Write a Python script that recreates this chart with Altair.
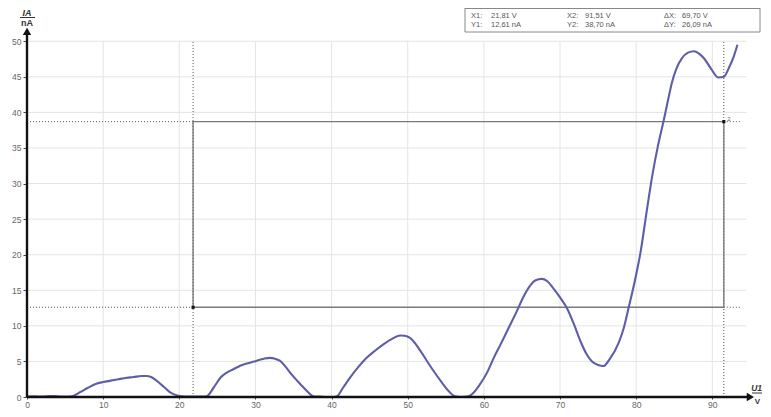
import altair as alt
import pandas as pd

# ---- measured curve (U1 in V, I_A in nA) ----
u_volts = [0, 1, 2, 3, 4, 5, 5.9, 7, 8, 9.2, 10, 11, 12, 13.1, 14, 15, 15.7, 16.3, 17, 18,
           18.8, 19.5, 20.3, 21, 22, 23, 23.6, 24.5, 25.4, 26.2, 27.1, 28, 29, 29.7, 30.5,
           31.2, 31.9, 32.5, 33.2, 34, 34.8, 35.9, 36.8, 37.6, 38.5, 39.5, 40.3, 40.7, 41.5,
           42.4, 43.5, 44.6, 45.7, 46.8, 48, 49, 49.6, 50.3, 51.6, 52.5, 53.4, 54.3, 55.4,
           56.2, 57, 58, 59.5, 60.5, 61.3, 62.2, 63.2, 64.3, 65.2, 66.1, 66.8, 67.6, 68.3,
           69.1, 70, 70.9, 71.8, 72.7, 73.5, 74.2, 75, 75.7, 76.5, 77.7, 78.4, 79, 79.8, 80.6,
           81.3, 82.1, 82.9, 83.6, 84.2, 84.7, 85.3, 86, 86.8, 87.6, 88.2, 88.9, 89.8, 90.8,
           91.5, 92.2, 92.8, 93.3]
i_nanoamp = [0.05, 0.1, 0.05, 0.15, 0.1, 0.05, 0.1, 0.7, 1.3, 1.9, 2.1, 2.3, 2.5, 2.7, 2.8,
             2.95, 2.96, 2.8, 2.3, 1.4, 0.65, 0.3, 0.1, 0.05, 0.05, 0.05, 0.1, 1.3, 2.7, 3.4,
             3.9, 4.4, 4.75, 4.95, 5.2, 5.4, 5.5, 5.4, 5.1, 4.2, 3.1, 1.8, 0.8, 0.1, 0.05, 0.0,
             0.0, 0.1, 1.3, 2.7, 4.2, 5.5, 6.5, 7.4, 8.2, 8.65, 8.6, 8.3, 6.6, 5.1, 3.65, 2.3,
             0.8, 0.1, 0.0, 0.1, 1.8, 3.6, 5.5, 7.4, 9.6, 12.0, 14.1, 15.7, 16.4, 16.6, 16.3,
             15.3, 14.0, 12.5, 10.3, 7.8, 6.0, 5.0, 4.5, 4.35, 5.3, 7.6, 9.8, 12.5, 16.2, 20.5,
             25.5, 31.0, 35.5, 38.8, 41.8, 44.2, 46.2, 47.6, 48.4, 48.6, 48.3, 47.6, 46.2, 44.9,
             45.0, 46.3, 47.8, 49.5]

# ---- axes ----
x_ticks = [0, 10, 20, 30, 40, 50, 60, 70, 80, 90]
y_ticks = [0, 5, 10, 15, 20, 25, 30, 35, 40, 45, 50]
x_domain = [0, 96]
y_domain = [0, 52]
x_grid_end = 94.5
y_grid_end = 50
x_axis_end = 95.0
y_axis_end = 51.4

# ---- cursors ----
cursor_x = [21.81, 91.51]
cursor_y = [12.61, 38.70]
cursor_extent = 93.7
readout_row1 = ["X1:", "21,81 V", "X2:", "91,51 V", "ΔX:", "69,70 V"]
readout_row2 = ["Y1:", "12,61 nA", "Y2:", "38,70 nA", "ΔY:", "26,09 nA"]

FONT = "Liberation Sans"
xs = alt.Scale(domain=x_domain, nice=False, zero=False)
ys = alt.Scale(domain=y_domain, nice=False, zero=False)

axis_common = dict(title=None, grid=False, domain=False, tickColor="#444",
                   labelFontSize=8.5, labelColor="#666", labelFont=FONT, format="d",
                   labelOverlap=False, labelFlush=False)
AX = alt.Axis(values=x_ticks, tickSize=2, labelPadding=1, **axis_common)
AY = alt.Axis(values=y_ticks, tickSize=4, labelPadding=2, **axis_common)


def X(field):
    return alt.X(field, type="quantitative", scale=xs, axis=AX)


def Y(field):
    return alt.Y(field, type="quantitative", scale=ys, axis=AY)


curve_df = pd.DataFrame({"u": u_volts, "i": i_nanoamp})

# grid
vgrid = alt.Chart(pd.DataFrame({"x": x_ticks[1:], "y0": 0, "y1": y_grid_end})).mark_rule(
    color="#e4e4e4", strokeWidth=1).encode(x=X("x"), y=Y("y0"), y2="y1:Q")
hgrid = alt.Chart(pd.DataFrame({"y": y_ticks[1:], "x0": 0, "x1": x_grid_end})).mark_rule(
    color="#e4e4e4", strokeWidth=1).encode(y=Y("y"), x=X("x0"), x2="x1:Q")

# cursor dotted lines
cv = alt.Chart(pd.DataFrame({"x": cursor_x, "y0": 0, "y1": y_grid_end})).mark_rule(
    color="#555", strokeWidth=1, strokeDash=[1, 2]).encode(x=X("x"), y=Y("y0"), y2="y1:Q")
ch_rows = []
for yv in cursor_y:
    ch_rows.append({"y": yv, "x0": 0, "x1": cursor_x[0]})
    ch_rows.append({"y": yv, "x0": cursor_x[1], "x1": cursor_extent})
ch = alt.Chart(pd.DataFrame(ch_rows)).mark_rule(
    color="#555", strokeWidth=1, strokeDash=[1, 2]).encode(y=Y("y"), x=X("x0"), x2="x1:Q")

# cursor rectangle
rect = alt.Chart(pd.DataFrame({"x0": [cursor_x[0]], "x1": [cursor_x[1]],
                               "y0": [cursor_y[0]], "y1": [cursor_y[1]]})).mark_rect(
    fill=None, fillOpacity=0, stroke="#7a7a7a", strokeWidth=1.4).encode(
    x=X("x0"), x2="x1:Q", y=Y("y0"), y2="y1:Q")
cpts = alt.Chart(pd.DataFrame({"x": cursor_x, "y": cursor_y})).mark_point(
    shape="square", filled=True, color="#111", size=10, opacity=1).encode(x=X("x"), y=Y("y"))
c2lab = alt.Chart(pd.DataFrame({"x": [cursor_x[1]], "y": [cursor_y[1]], "t": ["2"]})).mark_text(
    font=FONT, fontSize=6, color="#666", dx=5, dy=-3).encode(x=X("x"), y=Y("y"), text="t:N")

# curve
curve = alt.Chart(curve_df).mark_line(color="#5e5ea8", strokeWidth=2.1,
                                      interpolate="monotone").encode(x=X("u"), y=Y("i"))

# axis lines with arrows
xaxis = alt.Chart(pd.DataFrame({"x0": [0], "x1": [x_axis_end], "y": [0]})).mark_rule(
    color="#111", strokeWidth=2.4).encode(x=X("x0"), x2="x1:Q", y=Y("y"))
yaxis = alt.Chart(pd.DataFrame({"y0": [0], "y1": [y_axis_end], "x": [0]})).mark_rule(
    color="#111", strokeWidth=2.4).encode(y=Y("y0"), y2="y1:Q", x=X("x"))
xarrow = alt.Chart(pd.DataFrame({"x": [x_axis_end], "y": [0]})).mark_point(
    shape="triangle-right", filled=True, color="#111", size=70, opacity=1).encode(
    x=X("x"), y=Y("y"))
yarrow = alt.Chart(pd.DataFrame({"x": [0], "y": [y_axis_end]})).mark_point(
    shape="triangle-up", filled=True, color="#111", size=70, opacity=1).encode(
    x=X("x"), y=Y("y"))

one = pd.DataFrame({"a": [0]})


def txt(s, x, y, size=8, color="#444", align="left", style="normal", weight="normal"):
    return alt.Chart(one).mark_text(text=s, font=FONT, fontSize=size, color=color, align=align,
                                    baseline="middle", fontStyle=style, fontWeight=weight).encode(
        x=alt.value(x), y=alt.value(y))


def prule(x0, x1, y0, y1, color="#333", w=1):
    return alt.Chart(one).mark_rule(color=color, strokeWidth=w).encode(
        x=alt.value(x0), x2=alt.value(x1), y=alt.value(y0), y2=alt.value(y1))


W, H = 731, 370
TOP = 19

# axis titles (fractions)
titles = [
    txt("IA", 0, -14, size=9, color="#333", align="center", style="italic", weight="bold"),
    prule(-7, 8, -9.5, -9.5, color="#333", w=1),
    txt("nA", 0, -4.5, size=9, color="#333", align="center", weight="bold"),
    txt("U1", 735, H - 9, size=8.5, color="#333", align="right", style="italic", weight="bold"),
    prule(725, 735, H - 4, H - 4, color="#333", w=1),
    txt("V", 733, H + 5, size=8, color="#333", align="right", weight="bold"),
]

# readout box
bx0, bx1, by0, by1 = 438, 733, -19, 5
box = [
    alt.Chart(one).mark_rect(fill="white").encode(
        x=alt.value(bx0), x2=alt.value(bx1), y=alt.value(by0), y2=alt.value(by1)),
    prule(bx0, bx1, by0 + 0.5, by0 + 0.5, color="#888"),
    prule(bx0, bx1, by1, by1, color="#888"),
    prule(bx0, bx0, by0, by1, color="#888"),
    prule(bx1, bx1, by0, by1, color="#888"),
]
col_x = [444, 464, 540, 558, 637, 655]
readout = []
for cx, t1, t2 in zip(col_x, readout_row1, readout_row2):
    readout.append(txt(t1, cx, -11.5, size=7.5, color="#555"))
    readout.append(txt(t2, cx, -2, size=7.5, color="#555"))

chart = alt.layer(
    vgrid, hgrid, cv, ch, rect, curve, xaxis, yaxis, xarrow, yarrow, cpts, c2lab,
    *titles, *box, *readout
).properties(
    width=W, height=H,
    padding={"left": 19, "top": TOP, "right": 5, "bottom": 12},
    autosize=alt.AutoSizeParams(type="none"),
).configure_view(stroke=None, clip=False).configure_axis(labelFont=FONT)

chart.save("out.html", embed_options={"renderer": "svg", "actions": False})
